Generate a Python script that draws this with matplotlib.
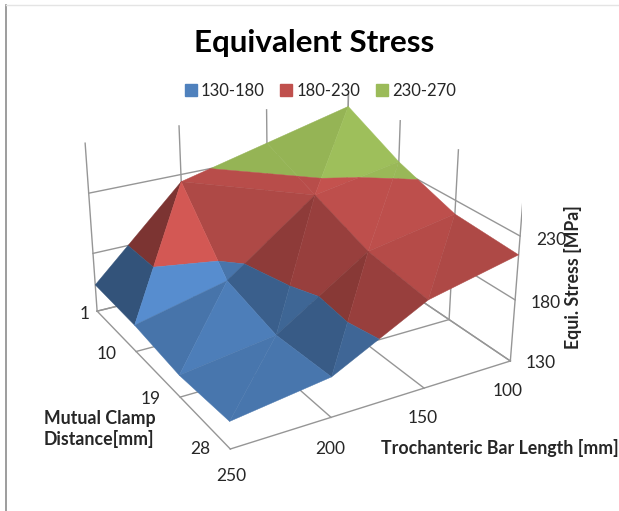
import numpy as np
import matplotlib
matplotlib.use('Agg')
import matplotlib.pyplot as plt
from matplotlib.lines import Line2D
from matplotlib.patches import Patch
from mpl_toolkits.mplot3d import proj3d
from mpl_toolkits.mplot3d.art3d import Poly3DCollection

plt.rcParams['font.family'] = ['Lato', 'DejaVu Sans']

bar_length = [250, 200, 150, 100]
clamp_distance = [1, 10, 19, 28]
# equivalent stress, one list per clamp distance, same order as bar_length
stress_1 = [153, 224, 242, 260]
stress_10 = [152, 169.5, 223.5, 236]
stress_19 = [147.5, 158, 206, 219]
stress_28 = [151, 161.5, 199.5, 215.5]
stress_ticks = [130, 180, 230]
stress_top = 270
band_edges = [130, 180, 230, 270]
band_labels = ['130-180', '180-230', '230-270']
band_colors = ['#4F81BD', '#C0504D', '#9BBB59']

W, H = 619, 511
GRID = '#969696'
TEXT = '#262626'


def clip(tri, low, high):
    # keep the part of a triangle between two stress levels
    poly = tri
    for level, sign in ((low, 1), (high, -1)):
        out = []
        for a, b in zip(poly, poly[1:] + poly[:1]):
            da, db = sign * (a[2] - level), sign * (b[2] - level)
            if da >= 0:
                out.append(a)
            if da * db < 0:
                t = da / (da - db)
                out.append(tuple(a[k] + t * (b[k] - a[k]) for k in range(3)))
        poly = out
        if not poly:
            break
    return poly


def shade(p0, p1, p2):
    # normal taken in grid cells, so lighting does not depend on axis units
    n = np.cross(np.array(p1) - np.array(p0), np.array(p2) - np.array(p0))
    n = n / np.linalg.norm(n)
    if n[2] < 0:
        n = -n
    return 1 + 0.53 * n[0] + 0.34 * n[1]


def label3d(x, y, z, s, size=12.5):
    # tick label pinned to a 3d spot, written as plain 2d text
    px, py, _ = proj3d.proj_transform(x, y, z, ax.get_proj())
    ax.text2D(px, py, s, transform=ax.transData, ha='center', va='center', fontsize=size, color=TEXT)


fig = plt.figure(figsize=(W / 100, H / 100), dpi=100)
ax = fig.add_axes([57.91 / W, 21.36 / H, 464.11 / W, 464.11 / H], projection='3d')
ax.set_xlim(100, 250)
ax.set_ylim(1, 28)
ax.set_zlim(130, stress_top)
ax.view_init(elev=24.69, azim=59.818)
ax.set_proj_type('persp', focal_length=0.5225)
ax.set_box_aspect((1.6478, 1.6141, 1))
ax.set_axis_off()
ax.patch.set_visible(False)
ax.computed_zorder = False

# walls and floor
for x in bar_length:
    ax.plot([x, x], [1, 28], [130, 130], color=GRID, lw=1, zorder=1)
    ax.plot([x, x], [1, 1], [130, stress_top], color=GRID, lw=1, zorder=1)
for y in clamp_distance:
    ax.plot([100, 250], [y, y], [130, 130], color=GRID, lw=1, zorder=1)
    ax.plot([100, 100], [y, y], [130, stress_top], color=GRID, lw=1, zorder=1)
for z in stress_ticks:
    ax.plot([100, 250], [1, 1], [z, z], color=GRID, lw=1, zorder=1)
    ax.plot([100, 100], [1, 28], [z, z], color=GRID, lw=1, zorder=1)

# surface, two triangles per cell, cut at the band edges
stress = np.array([stress_1, stress_10, stress_19, stress_28])
polys, colors = [], []
for j in range(3):
    for i in range(3):
        if (i, j) == (1, 0):
            cells = [[(i, j), (i + 1, j), (i + 1, j + 1)], [(i, j), (i + 1, j + 1), (i, j + 1)]]
        else:
            cells = [[(i, j), (i + 1, j), (i, j + 1)], [(i + 1, j), (i + 1, j + 1), (i, j + 1)]]
        for cell in cells:
            tri = [(bar_length[a], clamp_distance[b], stress[b, a]) for a, b in cell]
            grid_tri = [(a, b, (stress[b, a] - 130) / 77) for a, b in cell]
            f = shade(*grid_tri)
            for k, col in enumerate(band_colors):
                part = clip(tri, band_edges[k], band_edges[k + 1])
                if len(part) >= 3:
                    rgb = np.clip(np.array(matplotlib.colors.to_rgb(col)) * f, 0, 1)
                    polys.append(part)
                    colors.append(rgb)
surface = Poly3DCollection(polys, facecolors=colors, edgecolors=colors, linewidths=0.3, zorder=2)
ax.add_collection3d(surface)

# tick labels
for x, z in zip(bar_length, [109, 105, 105, 105]):
    label3d(x, 28, z, str(x))
for y, dx, z in zip(clamp_distance, [7, 15, 14.5, 14], [130, 134, 135, 137]):
    label3d(250 + dx, y, z, str(y))
for z in stress_ticks:
    label3d(81, 28, z - 10, str(z))

fig.text(314 / W, 1 - 43 / H, 'Equivalent Stress', ha='center', va='center', fontsize=22.6, fontweight='bold', color='black')
fig.text(499.5 / W, 1 - 448 / H, 'Trochanteric Bar Length [mm]', ha='center', va='center', fontsize=12.8, fontweight='bold', color=TEXT)
fig.text(44 / W, 1 - 429 / H, 'Mutual Clamp\nDistance[mm]', ha='left', va='center', fontsize=12.8, fontweight='bold', color=TEXT, linespacing=1.15)
fig.text(573 / W, 1 - 277 / H, 'Equi. Stress [MPa]', ha='center', va='center', rotation=90, fontsize=12.8, fontweight='bold', color=TEXT)

handles = [Patch(color=c, label=l) for c, l in zip(band_colors, band_labels)]
fig.legend(handles=handles, ncol=3, loc='center', bbox_to_anchor=(320.5 / W, 1 - 91 / H), frameon=False,
           fontsize=12, handlelength=0.72, handleheight=0.72, handletextpad=0.25, columnspacing=0.95,
           labelcolor=TEXT)

# picture border left over from the source image
fig.add_artist(Line2D([6 / W, 6 / W], [0, 1 - 5 / H], color='#8C8C8C', lw=1.2))
fig.add_artist(Line2D([6 / W, 1], [1 - 5 / H, 1 - 5 / H], color='#E4E4E4', lw=1))

fig.savefig('out.png', dpi=100)
